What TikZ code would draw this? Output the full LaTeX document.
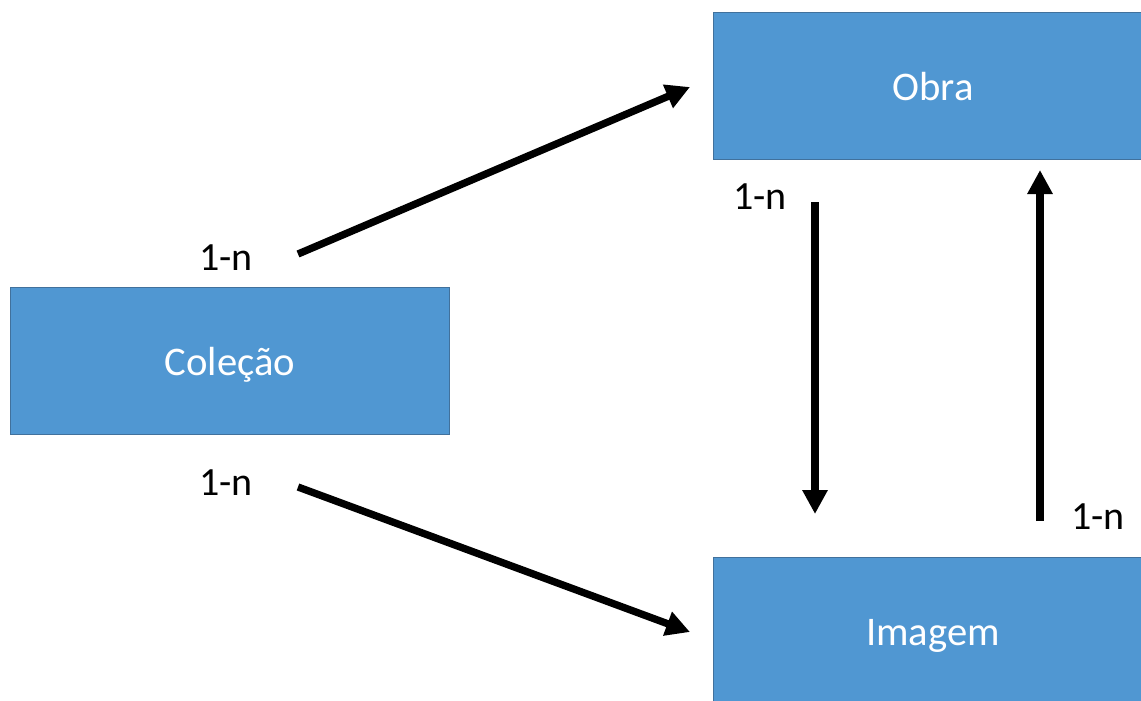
\documentclass[tikz,border=0pt]{standalone}
\usepackage{fontspec}
\setmainfont{Carlito}
\usetikzlibrary{arrows.meta}
\definecolor{boxfill}{HTML}{5097D2}
\definecolor{boxedge}{HTML}{41719C}
\begin{document}
\begin{tikzpicture}[x=0.75pt,y=-0.75pt,
  entity/.style={rectangle, fill=boxfill, draw=boxedge, line width=1.1pt,
    text=white, font=\fontsize{30.5}{36}\selectfont,
    text height=24pt, text depth=2.5pt,
    minimum width=329pt, minimum height=110.5pt, inner sep=0pt},
  card/.style={font=\fontsize{30}{36}\selectfont, text=black, inner sep=0pt},
  rel/.style={line width=5.5pt, -{Triangle[length=18pt,width=18pt]}}]
\useasboundingbox (0,0) rectangle (1141,700);

% entities
\node[entity] (colecao) at (230,361) {Coleção};
\node[entity] (obra)    at (933,86)  {Obra};
\node[entity] (imagem)  at (933,631) {Imagem};

% cardinalities
\node[card] (c1) at (226,258) {1-n};
\node[card] (c2) at (226,483) {1-n};
\node[card] (c3) at (760,197) {1-n};
\node[card] (c4) at (1098,517) {1-n};

% connector ends
\coordinate (co-s) at (298,254);
\coordinate (co-t) at (690,87);
\coordinate (ci-s) at (298,487);
\coordinate (ci-t) at (690,632);
\coordinate (oi-s) at (815,202);
\coordinate (oi-t) at (815,514);
\coordinate (io-s) at (1040,521);
\coordinate (io-t) at (1040,170);

% relations
\draw[rel] (co-s) -- (co-t);
\draw[rel] (ci-s) -- (ci-t);
\draw[rel] (oi-s) -- (oi-t);
\draw[rel] (io-s) -- (io-t);
\end{tikzpicture}
\end{document}
